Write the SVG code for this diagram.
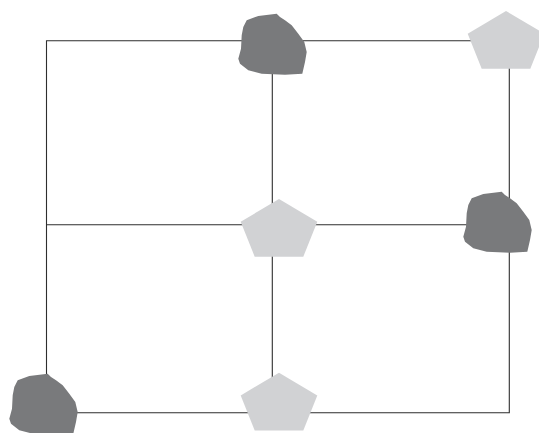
<svg xmlns="http://www.w3.org/2000/svg" width="539" height="433" viewBox="0 0 539 433">
  <style>
    .edge { fill: none; stroke: #2e2e2e; stroke-width: 1.1; }
    .rock { fill: #797a7c; }
    .pent { fill: #d1d2d4; }
  </style>
  <defs>
    <!-- irregular rounded stone shape, origin at its top-left -->
    <path id="rock" d="M8.7,6.3 L20.3,2 L38.7,-0.3 L42,3 L47,6.3 L53.7,11.3 L60.3,19.7 L66.3,28 L68.7,38 L67,48 L64.3,59.7 L47,60.7 L23.7,59.7 L10.3,56.3 L2,49.7 L0.3,44.7 L3,34.7 L3.7,21.3 L5.3,13 Z"/>
    <!-- pentagon, origin at its top vertex -->
    <polygon id="pentagon" points="0,0 38.3,22.7 24.3,57.7 -24.3,57.7 -38.3,22.7"/>
  </defs>
  <rect width="539" height="433" fill="#ffffff"/>

  <g id="connectors">
    <polyline class="edge" points="272.3,40.7 46.5,40.7 46.5,412.7"/>
    <line class="edge" x1="272.3" y1="40.7" x2="509.3" y2="40.7"/>
    <line class="edge" x1="46.5" y1="224.7" x2="272.3" y2="224.7"/>
    <line class="edge" x1="272.3" y1="224.7" x2="509.3" y2="224.7"/>
    <line class="edge" x1="272.3" y1="40.7" x2="272.3" y2="224.7"/>
    <line class="edge" x1="272.3" y1="224.7" x2="272.3" y2="412.7"/>
    <line class="edge" x1="509.3" y1="40.7" x2="509.3" y2="224.7"/>
    <polyline class="edge" points="509.3,224.7 509.3,412.7 272.3,412.7"/>
    <line class="edge" x1="46.5" y1="412.7" x2="272.3" y2="412.7"/>
  </g>

  <g id="node-top-middle">
    <use href="#rock" class="rock" transform="translate(238,14)"/>
  </g>
  <g id="node-top-right">
    <use href="#pentagon" class="pent" transform="translate(506,11)"/>
  </g>
  <g id="node-center">
    <use href="#pentagon" class="pent" transform="translate(279,199)"/>
  </g>
  <g id="node-middle-right">
    <use href="#rock" class="rock" transform="translate(463,192)"/>
  </g>
  <g id="node-bottom-left">
    <use href="#rock" class="rock" transform="translate(9,374)"/>
  </g>
  <g id="node-bottom-middle">
    <use href="#pentagon" class="pent" transform="translate(279,372.7)"/>
  </g>
</svg>
